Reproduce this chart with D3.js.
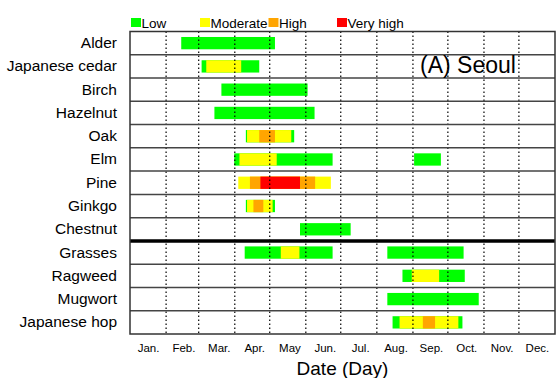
<!DOCTYPE html>
<html><head><meta charset="utf-8">
<script src="https://cdn.jsdelivr.net/npm/d3@7"></script>
<style>body{margin:0;background:#fff}svg{display:block;font-family:Arial,"Liberation Sans",sans-serif}</style>
</head><body><svg id="c" width="557" height="378"></svg>
<script>
// ---- data ----
const species = ["Alder","Japanese cedar","Birch","Hazelnut","Oak","Elm","Pine","Ginkgo","Chestnut","Grasses","Ragweed","Mugwort","Japanese hop"];
const levels = ["Low","Moderate","High","Very high"];
const levelColors = ["#00ff00","#ffff00","#ffa500","#ff0000"];
const months = ["Jan.","Feb.","Mar.","Apr.","May","Jun.","Jul.","Aug.","Sep.","Oct.","Nov.","Dec."];
const monthStartDays = [0,31,59,90,120,151,181,212,243,273,304,334,365];
// pollen periods per level: [species, start day, end day]
const lowPeriods = [
  ["Alder",44,124.5],["Japanese cedar",61.5,111],["Birch",78.5,152.5],["Hazelnut",72.5,158.5],
  ["Oak",99.5,141],["Elm",89.5,174],["Elm",244,267],["Ginkgo",99.5,124.5],["Chestnut",146,189.5],
  ["Grasses",98.5,174],["Grasses",221,286.5],["Ragweed",234,287.5],["Mugwort",221,299.5],["Japanese hop",225.5,285.5]
];
const moderatePeriods = [
  ["Japanese cedar",65.5,95.5],["Oak",100.5,138.5],["Elm",94,126],["Pine",93,172.5],
  ["Ginkgo",100.5,122.5],["Grasses",129.5,145.5],["Ragweed",242,265.5],["Japanese hop",231.5,282]
];
const highPeriods = [
  ["Oak",111,124.5],["Pine",103,159],["Ginkgo",106,114.5],["Japanese hop",251.5,262]
];
const veryHighPeriods = [
  ["Pine",112,146]
];
const periodsByLevel = [lowPeriods, moderatePeriods, highPeriods, veryHighPeriods];

(function(){
// ---- layout ----
const svg = d3.select("#c");
const pl = 130, pr = 555, pt = 31.5, pb = 334;
const x = d3.scaleLinear().domain([0,365]).range([pl,pr]);
const y = d3.scaleBand().domain(species).range([pt,pb]).padding(0);
const barH = 12.3;

// bars
periodsByLevel.forEach((arr,li)=>{
  svg.append("g").selectAll("rect").data(arr).join("rect")
    .attr("x", d=>x(d[1])).attr("width", d=>x(d[2])-x(d[1]))
    .attr("y", d=>y(d[0])+y.bandwidth()/2-barH/2).attr("height", barH)
    .attr("fill", levelColors[li]);
});

// dotted month boundaries
svg.append("g").selectAll("line").data(monthStartDays.slice(1,-1)).join("line")
  .attr("x1",d=>x(d)).attr("x2",d=>x(d)).attr("y1",pt).attr("y2",pb)
  .attr("stroke","#000").attr("stroke-width",1.2).attr("stroke-dasharray","1.5,2.5");

// row dividers
svg.append("g").selectAll("line").data(species.slice(1)).join("line")
  .attr("x1",pl).attr("x2",pr).attr("y1",d=>y(d)).attr("y2",d=>y(d))
  .attr("stroke",d=>d==="Grasses"?"#000":"#444")
  .attr("stroke-width",d=>d==="Grasses"?3.5:1.5);

// frame
svg.append("rect").attr("x",pl).attr("y",pt).attr("width",pr-pl).attr("height",pb-pt)
  .attr("fill","none").attr("stroke","#333").attr("stroke-width",1.5);

// y axis labels
const yAxis = svg.append("g").attr("transform",`translate(${pl},0)`)
  .call(d3.axisLeft(y).tickSize(0).tickPadding(13));
yAxis.select(".domain").remove();
yAxis.selectAll("text").attr("font-size","15.5px").attr("fill","#000").attr("font-family","Arial, 'Liberation Sans', sans-serif");

// month labels
const monthMid = months.map((m,i)=>(monthStartDays[i]+monthStartDays[i+1])/2);
const xm = d3.scalePoint().domain(months).range([x(monthMid[0]), x(monthMid[11])]);
const xAxis = svg.append("g").attr("transform",`translate(0,${pb})`)
  .call(d3.axisBottom(xm).tickSize(0).tickPadding(10));
xAxis.select(".domain").remove();
xAxis.selectAll("text").attr("font-size","11.5px").attr("fill","#000").attr("font-family","Arial, 'Liberation Sans', sans-serif");

svg.append("text").attr("x",(pl+pr)/2).attr("y",375).attr("text-anchor","middle")
  .attr("font-size","19px").text("Date (Day)");

svg.append("text").attr("x",420).attr("y",72.5).attr("font-size","23px").text("(A) Seoul");

// legend
const legendX = [131,200,268.5,337];
const lg = svg.append("g").selectAll("g").data(levels).join("g")
  .attr("transform",(d,i)=>`translate(${legendX[i]},18)`);
lg.append("rect").attr("width",10).attr("height",9).attr("fill",(d,i)=>levelColors[i]);
lg.append("text").attr("x",10.5).attr("y",9.5).attr("font-size","13.5px").text(d=>d);
})();
</script></body></html>
